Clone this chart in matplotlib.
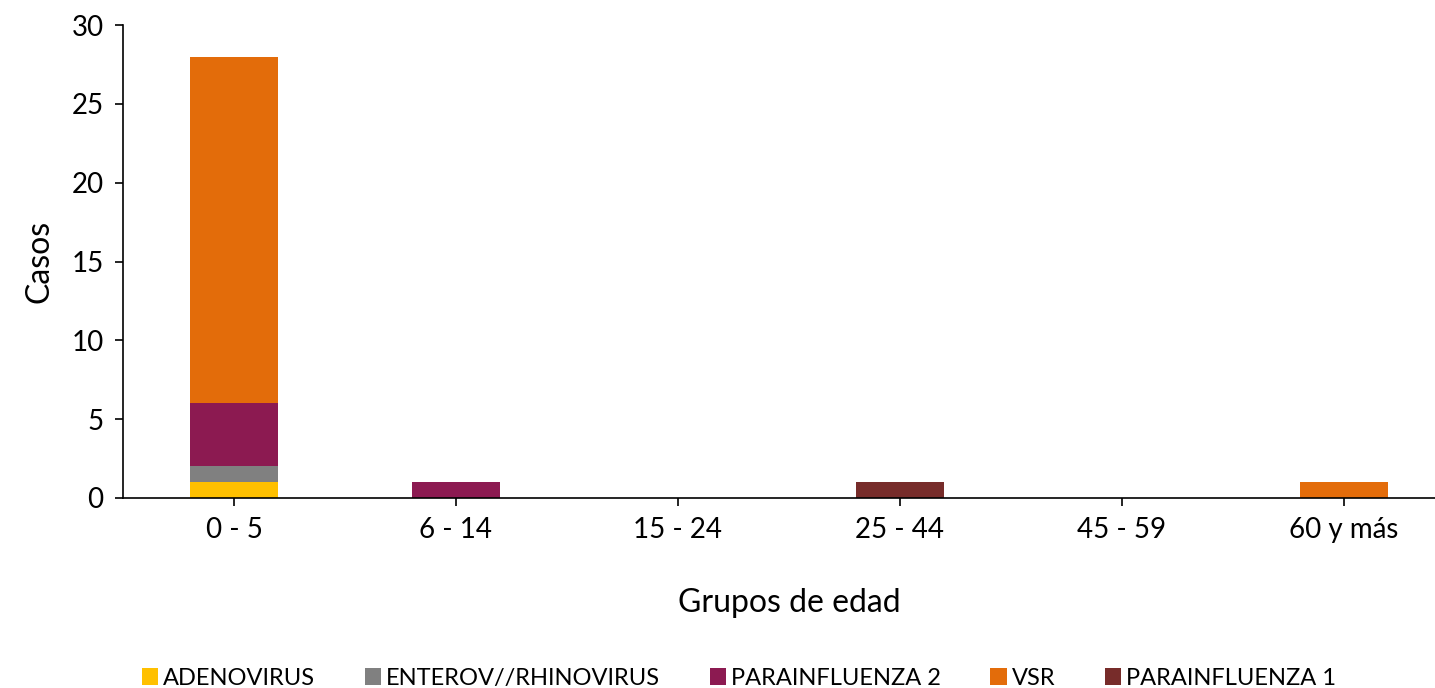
import matplotlib

matplotlib.use("Agg")
import matplotlib.pyplot as plt
import numpy as np

plt.rcParams["font.family"] = ["Lato", "DejaVu Sans"]

groups = ["0 - 5", "6 - 14", "15 - 24", "25 - 44", "45 - 59", "60 y más"]
series_names = ["ADENOVIRUS", "ENTEROV//RHINOVIRUS", "PARAINFLUENZA 2", "VSR", "PARAINFLUENZA 1"]
adenovirus = [1, 0, 0, 0, 0, 0]
enterov_rhinovirus = [1, 0, 0, 0, 0, 0]
parainfluenza_2 = [4, 1, 0, 0, 0, 0]
vsr = [22, 0, 0, 0, 0, 1]
parainfluenza_1 = [0, 0, 0, 1, 0, 0]
colors = ["#FFC000", "#808080", "#8C1A51", "#E36C0A", "#772C2A"]

fig = plt.figure(figsize=(14.35, 6.88), dpi=100)
ax = fig.add_axes([123 / 1435, (688 - 498) / 688, 1332 / 1435, 473 / 688])

x = np.arange(len(groups))
bottom = np.zeros(len(groups))
for name, vals, col in zip(series_names,
                           [adenovirus, enterov_rhinovirus, parainfluenza_2, vsr, parainfluenza_1],
                           colors):
    vals = np.array(vals, dtype=float)
    ax.bar(x, vals, width=0.4, bottom=bottom, color=col, label=name)
    bottom += vals

ax.set_xlim(-0.5, len(groups) - 0.5)
ax.set_ylim(0, 30)
ax.set_yticks(range(0, 31, 5))
ax.set_xticks(x)
ax.set_xticklabels(groups)
ax.tick_params(axis="both", labelsize=20, length=6, width=1.2, direction="out")
ax.tick_params(axis="y", pad=8)
ax.tick_params(axis="x", pad=8)
ax.spines["top"].set_visible(False)
ax.spines["right"].set_visible(False)
for s in ("left", "bottom"):
    ax.spines[s].set_linewidth(1.2)
ax.set_ylabel("Casos", fontsize=23, labelpad=12)
ax.set_xlabel("Grupos de edad", fontsize=23, labelpad=32)

handles, labels = ax.get_legend_handles_labels()
fig.legend(handles, labels, loc="lower center", bbox_to_anchor=(0.515, -0.032), ncol=5,
           frameon=False, fontsize=17, handlelength=0.7, handleheight=0.7,
           handletextpad=0.2, columnspacing=2.1)

fig.savefig("out.png", dpi=100)
